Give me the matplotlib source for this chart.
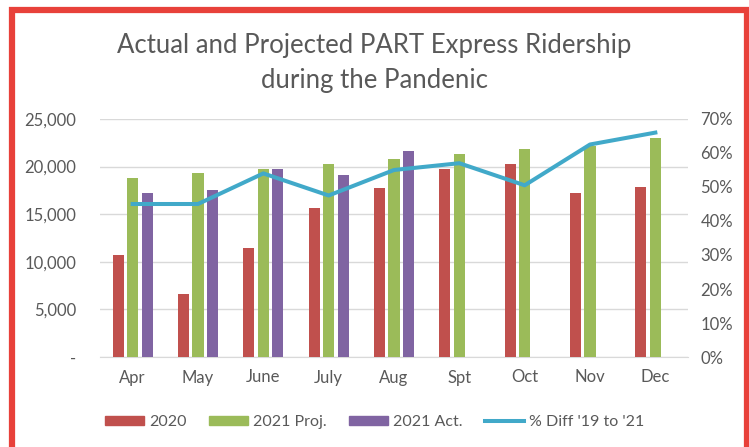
import numpy as np
import matplotlib.pyplot as plt
from matplotlib.patches import Patch, Rectangle
from matplotlib.lines import Line2D
from matplotlib.ticker import FuncFormatter

plt.rcParams['font.family'] = ['Lato', 'DejaVu Sans']

months = ['Apr', 'May', 'June', 'July', 'Aug', 'Spt', 'Oct', 'Nov', 'Dec']
rides_2020 = [10700, 6600, 11400, 15700, 17700, 19700, 20300, 17200, 17900]
rides_2021_proj = [18800, 19300, 19800, 20300, 20800, 21300, 21800, 22200, 23000]
rides_2021_act = [17200, 17500, 19700, 19100, 21600, np.nan, np.nan, np.nan, np.nan]
pct_diff = [45, 45, 54, 47.5, 55, 57, 50.5, 62.5, 66]

RED = '#C0504D'
GREEN = '#9BBB59'
PURPLE = '#8064A2'
TEAL = '#41A9C9'
TXT = '#595959'

fig = plt.figure(figsize=(7.49, 4.47), dpi=100)
ax = fig.add_axes([100/749, 1 - 357/447, 588/749, 238/447])

x = np.arange(len(months))
w = 0.17
off = 0.222
ax.bar(x - off, rides_2020, w, color=RED, zorder=3)
ax.bar(x, rides_2021_proj, w, color=GREEN, zorder=3)
ax.bar(x + off, rides_2021_act, w, color=PURPLE, zorder=3)

ax.set_xlim(-0.5, len(months) - 0.5)
ax.set_ylim(0, 25000)
ax.set_yticks(np.arange(0, 25001, 5000))
ax.yaxis.set_major_formatter(FuncFormatter(lambda v, p: '-' if v == 0 else f'{int(v):,}'))
ax.set_xticks(x)
ax.set_xticklabels(months)
ax.grid(axis='y', color='#D9D9D9', linewidth=1, zorder=0)
for s in ['top', 'right', 'left']:
    ax.spines[s].set_visible(False)
ax.spines['bottom'].set_color('#D9D9D9')
ax.tick_params(axis='both', length=0, labelsize=12, colors=TXT)
ax.tick_params(axis='y', pad=17)
ax.tick_params(axis='x', pad=9)

ax2 = ax.twinx()
ax2.plot(x, pct_diff, color=TEAL, linewidth=2.9, zorder=4)
ax2.set_ylim(0, 70)
ax2.set_yticks(np.arange(0, 71, 10))
ax2.yaxis.set_major_formatter(FuncFormatter(lambda v, p: f'{int(v)}%'))
for s in ['top', 'right', 'left', 'bottom']:
    ax2.spines[s].set_visible(False)
ax2.tick_params(axis='y', length=0, labelsize=12, colors=TXT, pad=9)

fig.text(0.5, 1 - 63/447, 'Actual and Projected PART Express Ridership\nduring the Pandenic',
         ha='center', va='center', fontsize=18.5, color=TXT, linespacing=1.5)

handles = [Patch(color=RED), Patch(color=GREEN), Patch(color=PURPLE),
           Line2D([], [], color=TEAL, linewidth=2.9)]
labels = ['2020', '2021 Proj.', '2021 Act.', "% Diff '19 to '21"]
fig.legend(handles, labels, loc='center', bbox_to_anchor=(0.5, 1 - 422/447), ncol=4,
           frameon=False, fontsize=11.5, labelcolor=TXT, handlelength=2.45,
           handleheight=0.55, handletextpad=0.3, columnspacing=1.4)

fig.patches.append(Rectangle((12/749, -0.05), 735/749, 1.05 - 10/447, transform=fig.transFigure,
                             fill=False, edgecolor='#E8413A', linewidth=4.5, zorder=10))

fig.savefig('out.png', dpi=100)
